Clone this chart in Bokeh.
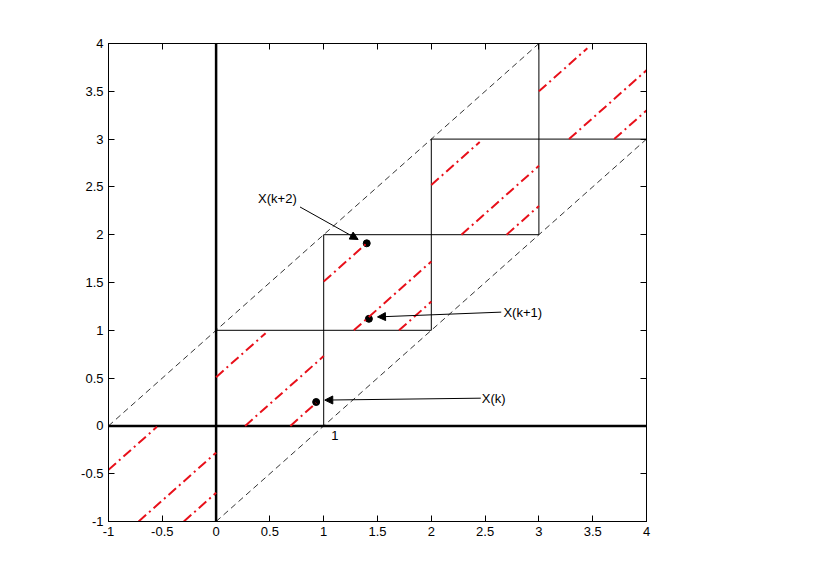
from bokeh.plotting import figure
from bokeh.models import (LinearAxis, FixedTicker, CustomJSTickFormatter, Arrow,
                          NormalHead, Range1d, ColumnDataSource)
from bokeh.embed import file_html
from bokeh.resources import INLINE
from bokeh.core.properties import value

# ---- data ----
ticks = [-1, -0.5, 0, 0.5, 1, 1.5, 2, 2.5, 3, 3.5, 4]

# staircase (solid thin black) segments
stair_x0 = [0, 1, 2, 3, 1, 2, 3]
stair_y0 = [1, 2, 3, 4, 0, 1, 2]
stair_x1 = [2, 3, 4, 4, 1, 2, 3]
stair_y1 = [1, 2, 3, 4, 2, 3, 4]

# dashed bounding lines y = x + 1 and y = x - 1
dash_x0 = [-1, 0]
dash_y0 = [0, -1]
dash_x1 = [3, 4]
dash_y1 = [4, 3]

# red dash-dot segments
red_x0 = [-1, -0.72, -0.30, 0, 0.27, 0.69, 1, 1.28, 1.70, 2, 2.28, 2.70, 3, 3.28, 3.70]
red_y0 = [-0.46, -1, -1, 0.51, 0, 0, 1.51, 1, 1, 2.52, 2, 2, 3.5, 3, 3]
red_x1 = [-0.55, 0, 0, 0.46, 1, 0.93, 1.40, 2, 2, 2.45, 3, 3, 3.45, 4, 4]
red_y1 = [-0.01, -0.28, -0.70, 0.97, 0.73, 0.24, 1.91, 1.72, 1.30, 2.97, 2.72, 2.30, 3.95, 3.72, 3.30]

# points
pt_x = [0.93, 1.42, 1.40]
pt_y = [0.25, 1.12, 1.91]

# annotations
ann_text = ["X(k)", "X(k+1)", "X(k+2)"]
ann_tx = [2.47, 2.67, 0.39]
ann_ty = [0.29, 1.19, 2.38]
arr_x0 = [2.46, 2.65, 0.78]
arr_y0 = [0.29, 1.19, 2.29]
arr_x1 = [1.01, 1.50, 1.32]
arr_y1 = [0.27, 1.14, 1.95]

FONT = "Liberation Sans"

p = figure(width=815, height=558, x_range=Range1d(-1, 4), y_range=Range1d(-1, 4),
           output_backend="svg", toolbar_location=None,
           x_axis_location=None, y_axis_location=None,
           min_border_left=108, min_border_right=169,
           min_border_top=43, min_border_bottom=37)
p.grid.visible = False
p.outline_line_color = "black"
p.outline_line_width = 1
p.background_fill_color = "white"
p.border_fill_color = "white"

fmt = CustomJSTickFormatter(code="return tick.toString();")
blank = CustomJSTickFormatter(code="return '';")

for loc in ["below", "left", "above", "right"]:
    ax = LinearAxis(ticker=FixedTicker(ticks=ticks))
    ax.formatter = fmt if loc in ("below", "left") else blank
    ax.major_tick_in = 6
    ax.major_tick_out = 0
    ax.minor_tick_in = 0
    ax.minor_tick_out = 0
    ax.axis_line_color = "black"
    ax.major_tick_line_color = "black"
    ax.major_label_text_font = FONT
    ax.major_label_text_font_size = "13px"
    ax.major_label_text_color = "black"
    ax.major_label_standoff = 5
    p.add_layout(ax, loc)

# thick coordinate axes
p.segment(x0=[0, -1], y0=[-1, 0], x1=[0, 4], y1=[4, 0], line_color="black", line_width=2.5)

# dashed lines
p.segment(x0=dash_x0, y0=dash_y0, x1=dash_x1, y1=dash_y1,
          line_color="black", line_width=0.8, line_dash="6 4")

# staircase
p.segment(x0=stair_x0, y0=stair_y0, x1=stair_x1, y1=stair_y1,
          line_color="black", line_width=1)

# points
p.scatter(pt_x, pt_y, size=7, fill_color="black", line_color="black")

# red dash-dot
p.segment(x0=red_x0, y0=red_y0, x1=red_x1, y1=red_y1,
          line_color="#e8101a", line_width=2, line_dash="10 4 2 4")

# arrows
asrc = ColumnDataSource(dict(x0=arr_x0, y0=arr_y0, x1=arr_x1, y1=arr_y1))
p.add_layout(Arrow(end=NormalHead(size=8, fill_color="black", line_color="black"),
                   x_start="x0", y_start="y0", x_end="x1", y_end="y1",
                   source=asrc, line_color="black", line_width=1))

p.text(x=ann_tx, y=ann_ty, text=ann_text, text_font=value(FONT),
       text_font_size="13px", text_baseline="middle", text_align="left",
       text_color="black")

p.text(x=[1.07], y=[-0.1], text=["1"], text_font=value(FONT),
       text_font_size="13px", text_baseline="middle", text_align="left",
       text_color="black")

open("out.html", "w").write(file_html(p, INLINE))
